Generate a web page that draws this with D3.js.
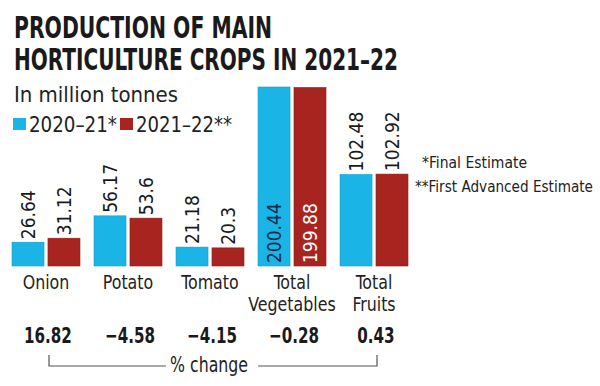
<!DOCTYPE html>
<html>
<head>
<meta charset="utf-8">
<script src="https://cdn.jsdelivr.net/npm/d3@7"></script>
<style>
  body { margin: 0; background: #fff; }
  svg { display: block; }
  text { font-family: "DejaVu Sans Condensed", "DejaVu Sans", sans-serif; font-stretch: condensed; fill: #222; }
</style>
</head>
<body>
<div id="chart"></div>
<script>
const categories = ["Onion", "Potato", "Tomato", "Total\nVegetables", "Total\nFruits"];
const seriesNames = ["2020\u201321*", "2021\u201322**"];
const values2021 = [26.64, 56.17, 21.18, 200.44, 102.48];
const values2122 = [31.12, 53.6, 20.3, 199.88, 102.92];
const labels2021 = ["26.64", "56.17", "21.18", "200.44", "102.48"];
const labels2122 = ["31.12", "53.6", "20.3", "199.88", "102.92"];
const pctChange = ["16.82", "\u22124.58", "\u22124.15", "\u22120.28", "0.43"];
const notes = ["*Final Estimate", "**First Advanced Estimate"];

const width = 600;
const height = 386;
const COLORS = ["#1ab4e6", "#a8241f"];

const svg = d3.select("#chart").append("svg")
  .attr("width", width).attr("height", height);

// squeeze a text to a target width (the print font is narrower than ours)
const fit = (sel, w) => sel.attr("textLength", w).attr("lengthAdjust", "spacingAndGlyphs");
const squeeze = (sel, k) => sel.each(function () {
  fit(d3.select(this), this.getComputedTextLength() * k);
});

// title
fit(svg.append("text").attr("x", 14).attr("y", 38)
  .style("font-size", "30px").style("font-weight", "bold").style("fill", "#1a1a1a")
  .text("PRODUCTION OF MAIN"), 258);
fit(svg.append("text").attr("x", 14).attr("y", 70)
  .style("font-size", "30px").style("font-weight", "bold").style("fill", "#1a1a1a")
  .text("HORTICULTURE CROPS IN 2021\u201322"), 384);

fit(svg.append("text").attr("x", 14).attr("y", 102)
  .style("font-size", "21px")
  .text("In million tonnes"), 164);

// legend
const legend = svg.append("g").attr("transform", "translate(13,118)");
const legendX = [0, 107];
const legendW = [88, 96];
seriesNames.forEach((s, i) => {
  legend.append("rect").attr("x", legendX[i]).attr("y", 0)
    .attr("width", 13).attr("height", 12).attr("fill", COLORS[i]);
  fit(legend.append("text").attr("x", legendX[i] + 16).attr("y", 14)
    .style("font-size", "21px").text(s), legendW[i]);
});

// scales
const x0 = d3.scaleBand().domain(categories).range([12, 408]).paddingInner(0.171);
const x1 = d3.scaleBand().domain(seriesNames).range([0, x0.bandwidth()]).paddingInner(0.11);
const y = d3.scaleLinear().domain([0, 200.44]).range([266, 87]);

const rows = categories.map((c, i) => ({
  cat: c,
  bars: [
    { s: seriesNames[0], v: values2021[i], label: labels2021[i] },
    { s: seriesNames[1], v: values2122[i], label: labels2122[i] },
  ],
}));

const group = svg.append("g").selectAll("g").data(rows).join("g")
  .attr("transform", (d) => `translate(${x0(d.cat)},0)`);

group.selectAll("rect").data((d) => d.bars).join("rect")
  .attr("x", (d) => x1(d.s))
  .attr("y", (d) => y(d.v))
  .attr("width", x1.bandwidth())
  .attr("height", (d) => y(0) - y(d.v))
  .attr("fill", (d, i) => COLORS[i])
  .attr("stroke", (d, i) => (i === 0 ? "#14a0cf" : "#8f1d19"))
  .attr("stroke-width", 0.6);

// value labels, rotated; inside the bar when the bar is very tall
group.selectAll("text.val").data((d) => d.bars).join("text")
  .attr("class", "val")
  .attr("transform", (d) => {
    const cx = x1(d.s) + x1.bandwidth() / 2 + 7;
    const inside = d.v > 150;
    const yy = inside ? y(0) - 3 : y(d.v) - 3;
    return `translate(${cx},${yy}) rotate(-90)`;
  })
  .style("font-size", "19px")
  .style("fill", (d, i) => (d.v > 150 ? (i === 0 ? "#0d2c4a" : "#fff") : "#1a1a1a"))
  .text((d) => d.label);

// category labels
const catTspans = group.append("text")
  .attr("x", x0.bandwidth() / 2)
  .attr("y", 289)
  .attr("text-anchor", "middle")
  .style("font-size", "20px")
  .selectAll("tspan").data((d) => d.cat.split("\n")).join("tspan")
  .attr("x", x0.bandwidth() / 2)
  .attr("dy", (d, i) => (i === 0 ? 0 : 22))
  .text((d) => d);
squeeze(catTspans, 0.88);

// % change row, under each group
const pct = svg.append("g").selectAll("text").data(categories).join("text")
  .attr("x", (d) => x0(d) + x0.bandwidth() / 2 + 2)
  .attr("y", 343)
  .attr("text-anchor", "middle")
  .style("font-size", "21px")
  .style("font-weight", "bold")
  .style("fill", "#1a1a1a")
  .text((d, i) => pctChange[i]);
squeeze(pct, 0.8);

// bracket
const bx0 = x0(categories[0]) + x0.bandwidth() / 2 + 3;
const last = categories[categories.length - 1];
const bx1 = x0(last) + x0.bandwidth() / 2 + 3;
const by = 366;
svg.append("path")
  .attr("d", `M${bx0},355V${by}H166M258,${by}H${bx1}V355`)
  .attr("fill", "none").attr("stroke", "#555").attr("stroke-width", 1.2);
fit(svg.append("text").attr("x", 170).attr("y", 372)
  .style("font-size", "21px")
  .text("% change"), 78);

// notes
fit(svg.append("text").attr("x", 422).attr("y", 168)
  .style("font-size", "15px").text(notes[0]), 105);
fit(svg.append("text").attr("x", 415).attr("y", 192)
  .style("font-size", "15px").text(notes[1]), 178);
</script>
</body>
</html>
